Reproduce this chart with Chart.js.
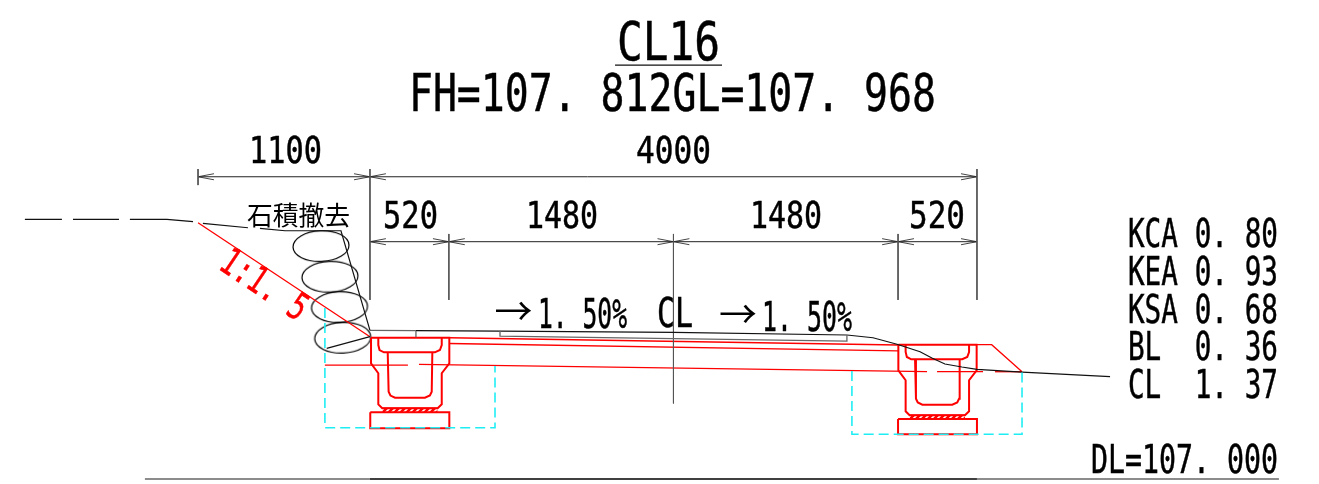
<!DOCTYPE html>
<html>
<head>
<meta charset="utf-8">
<title>CL16</title>
<script src="https://cdn.jsdelivr.net/npm/chart.js@4/dist/chart.umd.min.js"></script>
<style>
  html, body { margin: 0; padding: 0; background: #fff; }
  canvas { display: block; }
</style>
</head>
<body>
<canvas id="section" width="1319" height="484"></canvas>
<script>
// all values in mm: x from the left road edge, y above DL=107.000
var surfaceGray = [[0, 979], [303, 978]];
var surface = [[303, 978], [857, 975], [2003, 967], [3143, 949], [3315, 931], [3473, 888], [3625, 839], [3703, 797], [3789, 758], [3901, 738], [4000, 723], [4297, 705], [4877, 675]];
var groundDash1 = [[-2274, 1711], [-2030, 1711]];
var groundDash2 = [[-1957, 1711], [-1654, 1711]];
var groundDash3 = [[-1582, 1711], [-1338, 1711], [-1166, 1696]];
var groundDash4 = [[-1101, 1685], [-804, 1656]];
var groundDash5 = [[-725, 1652], [-560, 1636], [-191, 1636], [0, 979]];
var stoneTie = [[-285, 861], [0, 938]];
var surfaceTick = [[303, 975], [303, 935]];
var pavement = [[857, 975], [857, 942], [3143, 909], [3143, 949]];
var baseLineLeft = [[-1483, 0], [0, 0]];
var baseLineMid = [[0, 0], [4000, 0]];
var baseLineRight = [[4000, 0], [5990, 0]];
var titleRule = [[1615, 2728], [2320, 2728]];

var slope = [[-1133, 1689], [0, 938]];
var deckTop = [[523, 931], [3480, 883]];
var deckUnder = [[523, 893], [3480, 845]];
var deckLow = [[323, 755], [3671, 707]];
var lowDashLeft = [[-297, 751], [250, 751]];
var lowDashRight1 = [[3737, 707], [4040, 707]];
var lowDashRight2 = [[4119, 707], [4297, 707]];
var wing = [[3998, 885], [4097, 885], [4297, 707]];

var girderLeft = [[7, 931], [7, 762], [55, 697], [55, 492], [81, 466], [446, 466], [473, 492], [473, 697], [523, 762], [523, 931], [7, 931]];
var capLeft = [[55, 931], [55, 883], [63, 850], [92, 835], [428, 835], [461, 850], [473, 883], [473, 931]];
var webLeft = [[117, 835], [123, 575], [135, 550], [165, 536], [362, 536], [395, 550], [407, 575], [411, 835]];
var footLeft = [[2, 440], [523, 440], [523, 334], [2, 334], [2, 440]];
var girderRight = [[3482, 885], [3482, 716], [3530, 651], [3530, 446], [3556, 420], [3921, 420], [3948, 446], [3948, 651], [3998, 716], [3998, 885], [3482, 885]];
var capRight = [[3530, 885], [3530, 837], [3538, 804], [3567, 789], [3903, 789], [3936, 804], [3948, 837], [3948, 885]];
var webRight = [[3592, 789], [3598, 529], [3610, 504], [3640, 490], [3837, 490], [3870, 504], [3882, 529], [3886, 789]];
var footRight = [[3480, 395], [4000, 395], [4000, 295], [3480, 295], [3480, 395]];
var hatchLeft = [[81, 466], [446, 466]];
var hatchLeftBottom = 440;
var hatchRight = [[3556, 420], [3921, 420]];
var hatchRightBottom = 395;

var excavationLeft = [[-297, 1127], [-297, 338], [824, 338], [824, 745]];
var excavationRight = [[3176, 712], [3176, 295], [4297, 295], [4297, 712]];

var stones = [[-323, 1535], [-264, 1333], [-201, 1133], [-180, 931]];

var dimUpperY = 1992;
var dimLowerY = 1564;
var dimUpper = [[-1133, dimUpperY], [4000, dimUpperY]];
var dimLower = [[0, dimLowerY], [4000, dimLowerY]];
var extensions = [
  [[-1133, 2043], [-1133, 1937]],
  [[0, 2043], [0, 1180]],
  [[4000, 2043], [4000, 1180]],
  [[520, 1615], [520, 1180]],
  [[2000, 1615], [2000, 498]],
  [[3480, 1615], [3480, 1180]]
];
var upperTipsOpenRight = [-1133, 0];
var upperTipsOpenLeft = [0, 4000];
var lowerTipsOpenRight = [0, 520, 2000, 3480];
var lowerTipsOpenLeft = [520, 2000, 3480, 4000];

var textStrings = ['CL16', 'FH=107. 812GL=107. 968', '1100', '4000', '石積撤去', '520', '1480', '1480', '520',
  '→', '1. 50%', 'CL', '→', '1. 50%',
  'KCA 0. 80', 'KEA 0. 93', 'KSA 0. 68', 'BL  0. 36', 'CL  1. 37', 'DL=107. 000', '1:1. 5'];
var textLeft = [1628, 257, -797, 1753, -811, 86, 1028, 2504, 3552, 820, 1107, 1891, 2300, 2583, 4995, 4995, 4995, 4995, 4995, 4751, -1008];
var textRight = [2307, 3730, -316, 2247, -132, 448, 1503, 2979, 3921, 1074, 1694, 2129, 2550, 3176, 5984, 5984, 5984, 5984, 5984, 5984, -369];
var textBase = [2761, 2425, 2082, 2082, 1674, 1654, 1654, 1654, 1654, 1015, 995, 1002, 995, 975, 1531, 1278, 1030, 784, 536, 40, 1390];
var textPx = [54, 52, 38, 38, 26, 38, 38, 38, 38, 38, 41, 41, 38, 41, 39, 39, 39, 39, 39, 39, 38];
var textFont = ['m', 'm', 'm', 'm', 'j', 'm', 'm', 'm', 'm', 'j', 'm', 'm', 'j', 'm', 'm', 'm', 'm', 'm', 'm', 'm', 'm'];
var textColor = ['#000', '#000', '#000', '#000', '#000', '#000', '#000', '#000', '#000', '#000', '#000', '#000', '#000', '#000', '#000', '#000', '#000', '#000', '#000', '#000', '#f00'];
var textTurn = [0, 0, 0, 0, 0, 0, 0, 0, 0, 0, 0, 0, 0, 0, 0, 0, 0, 0, 0, 0, 33.7];

function pts(list) {
  return list.map(function (p) { return { x: p[0], y: p[1] }; });
}

function path(list, color, width, dash) {
  return {
    data: pts(list),
    showLine: true,
    borderColor: color,
    borderWidth: width,
    borderDash: dash || [],
    pointRadius: 0,
    fill: false,
    tension: 0
  };
}

// open arrow head of a dimension line
function head(tip, y, dir) {
  return path([[tip + dir * 105, y + 20], [tip, y], [tip + dir * 105, y - 20]], '#444', 1);
}

function hatchPattern() {
  var c = document.createElement('canvas');
  c.width = 6;
  c.height = 6;
  var g = c.getContext('2d');
  g.fillStyle = '#f00';
  g.fillRect(0, 0, 6, 6);
  g.strokeStyle = '#fff';
  g.lineWidth = 1.6;
  g.beginPath();
  g.moveTo(-1, 7); g.lineTo(7, -1);
  g.moveTo(-4, 4); g.lineTo(4, -4);
  g.moveTo(2, 10); g.lineTo(10, 2);
  g.stroke();
  return g.createPattern(c, 'repeat');
}

function stoneImage() {
  var c = document.createElement('canvas');
  c.width = 64;
  c.height = 40;
  var g = c.getContext('2d');
  g.strokeStyle = '#000';
  g.lineWidth = 1.2;
  g.beginPath();
  g.ellipse(32, 20, 28, 15.4, -0.04, 0, Math.PI * 2);
  g.stroke();
  return c;
}

function hatchBand(list, bottom) {
  var d = path(list, '#f00', 1.5);
  d.fill = { value: bottom };
  d.backgroundColor = hatchPattern();
  return d;
}

var datasets = [];
[excavationLeft, excavationRight].forEach(function (l) {
  datasets.push(path(l, '#1eeef4', 1.6, [10, 5]));
});
[surfaceGray, surfaceTick, pavement, baseLineLeft, baseLineRight].forEach(function (l) {
  datasets.push(path(l, '#666', 1.3));
});
[surface, groundDash1, groundDash2, groundDash3, groundDash4, groundDash5, stoneTie, titleRule].forEach(function (l) {
  datasets.push(path(l, '#111', 1.2));
});
datasets.push(path(baseLineMid, '#000', 1.6));
extensions.forEach(function (l) { datasets.push(path(l, '#555', 1)); });
datasets.push(path(dimUpper, '#222', 1));
datasets.push(path(dimLower, '#222', 1));
upperTipsOpenRight.forEach(function (t) { datasets.push(head(t, dimUpperY, 1)); });
upperTipsOpenLeft.forEach(function (t) { datasets.push(head(t, dimUpperY, -1)); });
lowerTipsOpenRight.forEach(function (t) { datasets.push(head(t, dimLowerY, 1)); });
lowerTipsOpenLeft.forEach(function (t) { datasets.push(head(t, dimLowerY, -1)); });
[slope, deckTop, deckUnder, deckLow, lowDashLeft, lowDashRight1, lowDashRight2, wing].forEach(function (l) {
  datasets.push(path(l, '#f00', 1.3));
});
[girderLeft, capLeft, webLeft, footLeft, girderRight, capRight, webRight, footRight].forEach(function (l) {
  datasets.push(path(l, '#f00', 2));
});
datasets.push(hatchBand(hatchLeft, hatchLeftBottom));
datasets.push(hatchBand(hatchRight, hatchRightBottom));
datasets.push({
  data: pts(stones),
  showLine: false,
  pointStyle: stoneImage(),
  pointRadius: 3
});

var textPlugin = {
  id: 'drawingText',
  afterDatasetsDraw: function (chart) {
    var ctx = chart.ctx;
    var sx = chart.scales.x;
    var sy = chart.scales.y;
    textStrings.forEach(function (s, i) {
      var family = textFont[i] === 'j' ? '"Noto Sans CJK JP"' : '"DejaVu Sans Mono"';
      var w = sx.getPixelForValue(textRight[i]) - sx.getPixelForValue(textLeft[i]);
      ctx.save();
      ctx.translate(sx.getPixelForValue(textLeft[i]), sy.getPixelForValue(textBase[i]));
      ctx.rotate(textTurn[i] * Math.PI / 180);
      ctx.font = textPx[i] + 'px ' + family;
      ctx.fillStyle = textColor[i];
      ctx.strokeStyle = textColor[i];
      ctx.lineWidth = 0.5;
      ctx.textAlign = 'left';
      ctx.textBaseline = 'alphabetic';
      ctx.fillText(s, 0, 0, w);
      // the compressed glyphs come out thin, thicken them a little
      if (textFont[i] === 'm') ctx.strokeText(s, 0, 0, w);
      ctx.restore();
    });
  }
};

new Chart(document.getElementById('section').getContext('2d'), {
  type: 'scatter',
  data: { datasets: datasets },
  options: {
    responsive: false,
    animation: false,
    layout: { padding: 0, autoPadding: false },
    plugins: { legend: { display: false }, title: { display: false }, tooltip: { enabled: false } },
    scales: {
      x: { type: 'linear', min: -2438, max: 6254, display: false },
      y: { type: 'linear', min: -33, max: 3157, display: false }
    }
  },
  plugins: [textPlugin]
});
</script>
</body>
</html>
